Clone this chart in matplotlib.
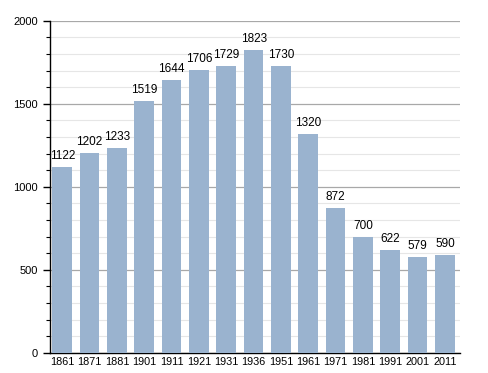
import matplotlib
matplotlib.use("Agg")
import matplotlib.pyplot as plt
from matplotlib.ticker import MultipleLocator

years = ["1861", "1871", "1881", "1901", "1911", "1921", "1931", "1936",
         "1951", "1961", "1971", "1981", "1991", "2001", "2011"]
population = [1122, 1202, 1233, 1519, 1644, 1706, 1729, 1823,
              1730, 1320, 872, 700, 622, 579, 590]

plt.rcParams["font.family"] = ["Liberation Sans", "DejaVu Sans"]

fig = plt.figure(figsize=(4.88, 3.73), dpi=100)
ax = fig.add_axes([0.1025, 0.054, 0.84, 0.89])

x = list(range(len(years)))
ax.bar(x, population, width=0.72, color="#9ab3cf", zorder=3)
for xi, v in zip(x, population):
    ax.text(xi, v + 30, str(v), ha="center", va="bottom", fontsize=8.5, zorder=4)

ax.set_xlim(-0.45, len(years) - 0.45)
ax.set_ylim(0, 2000)
ax.set_xticks(x)
ax.set_xticklabels(years, fontsize=7.8)
ax.yaxis.set_major_locator(MultipleLocator(500))
ax.yaxis.set_minor_locator(MultipleLocator(100))
ax.tick_params(axis="y", labelsize=8, length=5, width=1, direction="out")
ax.tick_params(axis="y", which="minor", length=3, width=0.8)
ax.tick_params(axis="x", length=0, pad=3)

ax.grid(axis="y", which="major", color="#a8a8a8", linewidth=0.9, zorder=1)
ax.grid(axis="y", which="minor", color="#e6e6e6", linewidth=0.8, zorder=1)

for side in ["top", "right"]:
    ax.spines[side].set_visible(False)
ax.spines["left"].set_linewidth(1)
ax.spines["bottom"].set_linewidth(1)

fig.savefig("out.png", dpi=100)
